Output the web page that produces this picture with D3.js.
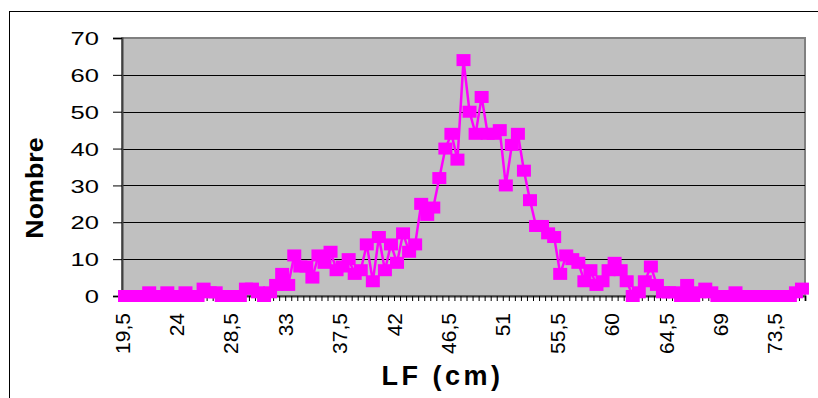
<!DOCTYPE html>
<html><head><meta charset="utf-8">
<script src="https://cdn.jsdelivr.net/npm/d3@7"></script>
<style>body{margin:0;background:#fff;} svg{display:block;}</style>
</head><body>
<svg id="c" width="818" height="398"></svg>
<script>
const categories = ["19,5","20","20,5","21","21,5","22","22,5","23","23,5","24","24,5","25","25,5","26","26,5","27","27,5","28","28,5","29","29,5","30","30,5","31","31,5","32","32,5","33","33,5","34","34,5","35","35,5","36","36,5","37","37,5","38","38,5","39","39,5","40","40,5","41","41,5","42","42,5","43","43,5","44","44,5","45","45,5","46","46,5","47","47,5","48","48,5","49","49,5","50","50,5","51","51,5","52","52,5","53","53,5","54","54,5","55","55,5","56","56,5","57","57,5","58","58,5","59","59,5","60","60,5","61","61,5","62","62,5","63","63,5","64","64,5","65","65,5","66","66,5","67","67,5","68","68,5","69","69,5","70","70,5","71","71,5","72","72,5","73","73,5","74","74,5","75","75,5"];
const counts = [0,0,0,0,1,0,0,1,0,0,
  1,0,0,2,1,1,0,0,0,0,
  2,2,1,0,1,3,6,3,11,8,
  8,5,11,9,12,7,8,10,6,7,
  14,4,16,7,14,9,17,12,14,25,
  22,24,32,40,44,37,64,50,44,54,
  44,44,45,30,41,44,34,26,19,19,
  17,16,6,11,10,9,4,7,3,4,
  7,9,7,4,0,1,4,8,3,1,
  1,1,0,3,0,1,2,1,0,0,
  0,1,0,0,0,0,0,0,0,0,
  0,1,2];
const yTicks = [0,10,20,30,40,50,60,70];
const xTickLabels = ["19,5","24","28,5","33","37,5","42","46,5","51","55,5","60","64,5","69","73,5"];
const yTitle = "Nombre";
const xTitle = "LF (cm)";

const svg = d3.select("#c");
const L = 122, R = 805, T = 38, B = 296;
const FONT = "'Liberation Sans', Arial, sans-serif";

// outer chart border (only left/top visible)
svg.append("rect").attr("x",9.5).attr("y",11.5).attr("width",1000).attr("height",1000)
  .attr("fill","#fff").attr("stroke","#000").attr("stroke-width",1);

const x = d3.scaleBand().domain(categories).range([L,R]).padding(0);
const xEdge = d3.scaleLinear().domain([0,categories.length]).range([L,R]);
const y = d3.scaleLinear().domain([0,70]).range([B,T]);

// plot area
svg.append("rect").attr("x",L).attr("y",T).attr("width",R-L).attr("height",B-T)
  .attr("fill","#C0C0C0").attr("stroke","#808080").attr("stroke-width",2);

// gridlines
svg.append("g").selectAll("line").data(yTicks.filter(t=>t>0 && t<70)).join("line")
  .attr("x1",L).attr("x2",R).attr("y1",d=>Math.round(y(d))+0.5).attr("y2",d=>Math.round(y(d))+0.5)
  .attr("stroke","#000").attr("stroke-width",1);

// y axis
const gy = svg.append("g").attr("transform",`translate(${L},0)`)
  .call(d3.axisLeft(y).tickValues(yTicks).tickSize(9).tickFormat(d3.format("d")));
gy.select(".domain").attr("stroke","#404040").attr("stroke-width",2);
gy.selectAll(".tick line").attr("stroke","#000");
gy.selectAll(".tick text").attr("x",0).attr("dy","0.36em")
  .attr("transform","translate(-23,0) scale(1.38,1)")
  .attr("font-family",FONT).attr("font-size",18.5).attr("fill","#000").attr("text-anchor","end");

// x axis tick marks between categories
const gxt = svg.append("g").attr("transform",`translate(0,${B})`)
  .call(d3.axisBottom(xEdge).tickValues(d3.range(0,categories.length+1)).tickSize(5).tickFormat(""));
gxt.select(".domain").attr("stroke","#404040").attr("stroke-width",2);
gxt.selectAll(".tick line").attr("stroke","#000");

// x axis labels
const gx = svg.append("g").attr("transform",`translate(0,${B})`)
  .call(d3.axisBottom(x).tickValues(xTickLabels).tickSize(0));
gx.select(".domain").remove();
gx.selectAll(".tick text").attr("x",0).attr("y",0).attr("dy","0.36em")
  .attr("transform","translate(-3,17) rotate(-90)")
  .attr("text-anchor","end")
  .attr("font-family",FONT).attr("font-size",21).attr("fill","#000");

// series
const cx = (c) => x(c) + x.bandwidth()/2;
const pts = categories.map((c,i)=>({c, v: counts[i]}));
svg.append("path").datum(pts)
  .attr("d", d3.line().x(d=>cx(d.c)).y(d=>y(d.v)))
  .attr("fill","none").attr("stroke","#FF00FF").attr("stroke-width",2.5).attr("stroke-linejoin","miter");
svg.append("g").selectAll("rect").data(pts).join("rect")
  .attr("x",d=>cx(d.c)-7).attr("y",d=>y(d.v)-6).attr("width",14).attr("height",12)
  .attr("fill","#FF00FF");

// titles
svg.append("text").text(yTitle)
  .attr("transform","translate(43,188) rotate(-90) scale(1.12,1)")
  .attr("text-anchor","middle").attr("font-family",FONT).attr("font-weight","bold")
  .attr("font-size",24).attr("fill","#000");
svg.append("text").text(xTitle)
  .attr("x",442.5).attr("y",385).attr("text-anchor","middle")
  .attr("font-family",FONT).attr("font-weight","bold").attr("font-size",27)
  .attr("letter-spacing","3.5px").attr("fill","#000");
</script>
</body></html>
